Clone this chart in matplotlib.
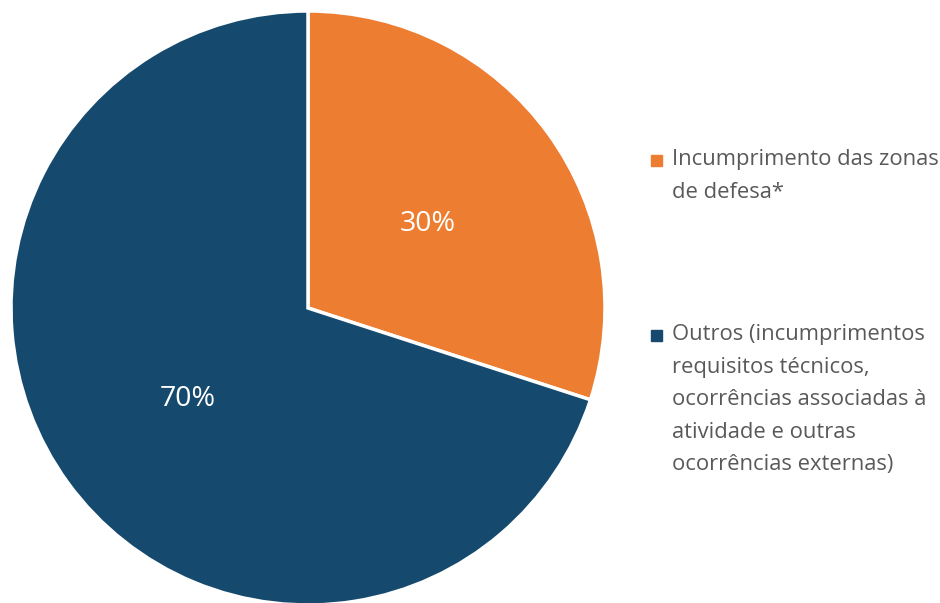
import matplotlib.pyplot as plt
from matplotlib.patches import Rectangle

labels = ['Incumprimento das zonas\nde defesa*',
          'Outros (incumprimentos\nrequisitos técnicos,\nocorrências associadas à\natividade e outras\nocorrências externas)']
values = [30, 70]
colors = ['#ED7D31', '#154A6E']

plt.rcParams['font.family'] = ['Open Sans', 'DejaVu Sans']

W, H = 940, 603
fig = plt.figure(figsize=(W / 100, H / 100), dpi=100)
ax = fig.add_axes([11 / W, -2 / H, 594 / W, 594 / H])

wedges, texts, autotexts = ax.pie(values, colors=colors, startangle=90, counterclock=False,
                                  autopct='%1.0f%%', pctdistance=0.5,
                                  wedgeprops=dict(edgecolor='white', linewidth=2.5),
                                  textprops=dict(color='white', fontsize=20.5))
for t in autotexts:
    t.set_va('center_baseline')
ax.set_xlim(-1, 1)
ax.set_ylim(-1, 1)
ax.set_aspect('equal')

# legend drawn by hand so the marker sits on the first line
tops = [149, 324]
for lab, col, y in zip(labels, colors, tops):
    fig.add_artist(Rectangle((651 / W, 1 - (y + 17) / H), 11 / W, 11 / H,
                             transform=fig.transFigure, color=col))
    fig.text(672 / W, 1 - y / H, lab, ha='left', va='top', fontsize=15.8,
             color='#595959', linespacing=1.72)

fig.savefig('out.png', dpi=100)
